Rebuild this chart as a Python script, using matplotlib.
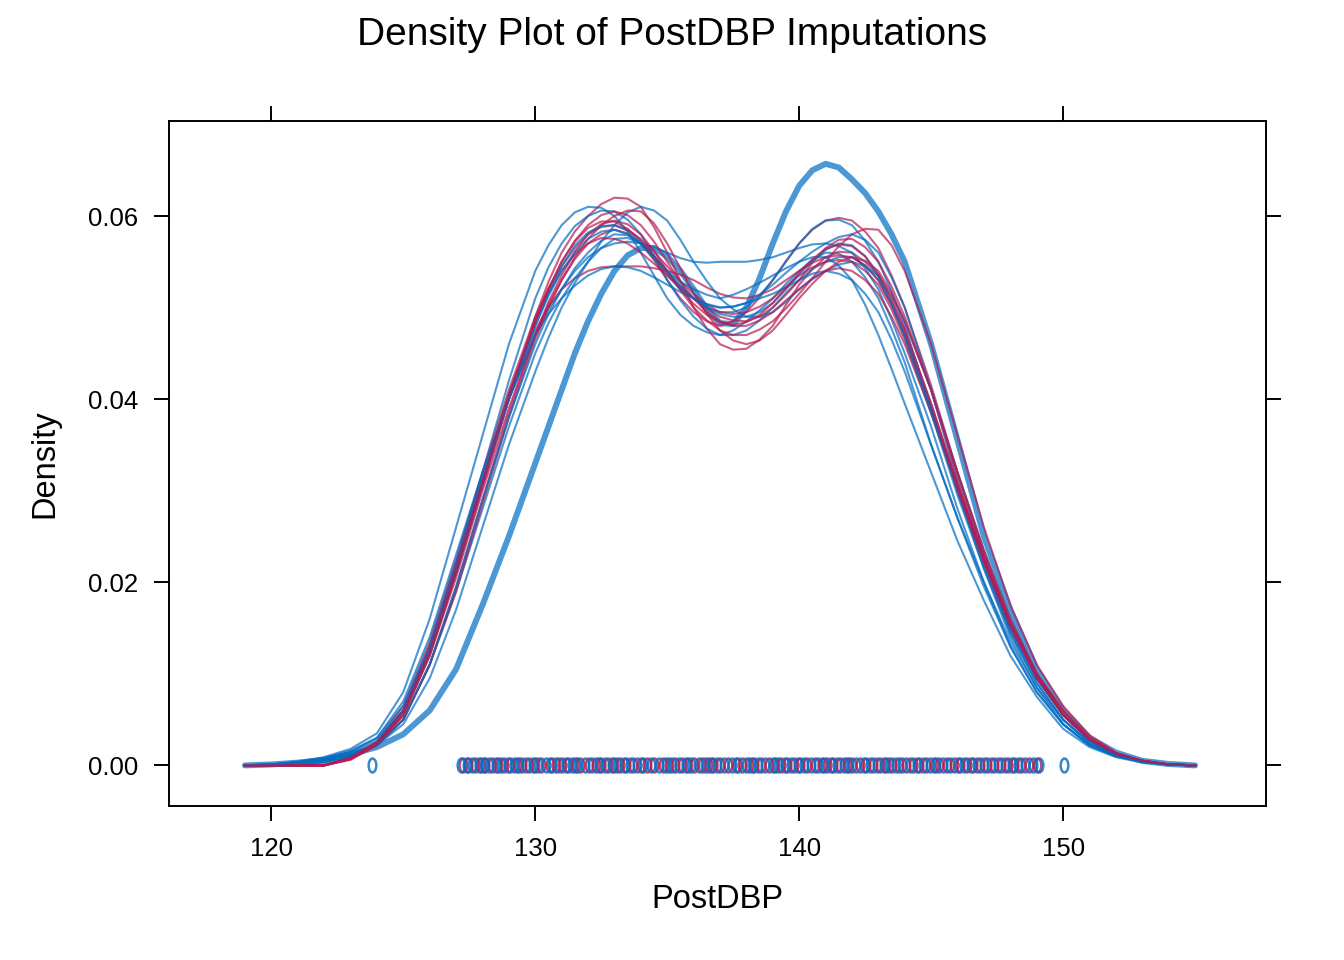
import numpy as np
import matplotlib
matplotlib.use("Agg")
from matplotlib import pyplot as plt
from matplotlib.path import Path
from matplotlib.transforms import Affine2D

plt.rcParams['font.family'] = ['Liberation Sans', 'DejaVu Sans']

# x grid (PostDBP) shared by all density curves: 1 unit on the tails, 0.5 around the peaks
grid = [119, 120, 121, 122, 123, 124, 125, 126, 127, 128, 129, 130,
        130.5, 131, 131.5, 132, 132.5, 133, 133.5, 134, 134.5, 135, 135.5, 136, 136.5,
        137, 137.5, 138, 138.5, 139, 139.5, 140, 140.5, 141, 141.5, 142, 142.5, 143, 143.5,
        144, 145, 146, 147, 148, 149, 150, 151, 152, 153, 154, 155]

# densities, in units of 0.001
observed = [0, 0.1, 0.3, 0.6, 1.2, 2.0, 3.4, 6, 10.5, 17.5, 25, 33,
            37, 41, 45, 48.5, 51.5, 54, 55.7, 56.5, 56.5, 55.6, 54, 52, 49.8,
            48.3, 48.2, 50, 53.2, 57, 60.5, 63.3, 65, 65.7, 65.3, 64, 62.5, 60.5, 58,
            55, 46, 35.5, 25, 17, 10.5, 6, 3, 1.4, 0.5, 0.15, 0]

blue_imps = [
    [0, 0.1, 0.4, 0.9, 1.8, 3.5, 8, 16, 26, 36, 46, 54,
     56.8, 59, 60.4, 61, 60.9, 60, 58.3, 56, 53.5, 51, 49.2, 48, 47.3,
     47, 47.5, 48.5, 49.7, 51, 52.6, 54, 55.2, 56, 55.9, 55, 53.3, 51, 47.7,
     44, 35, 27, 19.5, 13, 8, 4.5, 2.2, 1, 0.4, 0.1, 0],
    [0, 0.1, 0.3, 0.6, 1.2, 2.4, 5.5, 12, 21, 31, 40, 47,
     49.8, 52, 54, 55.5, 56.5, 57, 57.2, 57, 56.6, 56, 55.4, 55, 54.9,
     55, 55, 55, 55.2, 55.5, 56, 56.5, 56.9, 57, 56.7, 56, 54.3, 52, 48.7,
     45, 37, 28, 20, 13, 8, 4.5, 2.2, 1, 0.4, 0.1, 0],
    [0, 0, 0, 0.2, 1.0, 2.5, 6, 13, 22, 32, 42, 51,
     54.4, 57, 58.9, 60, 60.6, 60.5, 59.6, 58, 55.6, 53, 50.8, 49, 47.7,
     47, 47, 47.5, 48.6, 50, 51.6, 53, 54.2, 55, 55.5, 55.5, 54.6, 53, 50.3,
     47, 39, 30, 22, 14.5, 9, 5, 2.4, 1.1, 0.4, 0.1, 0],
    [0, 0.1, 0.3, 0.6, 1.2, 2.3, 5, 11, 19, 28, 37, 45,
     48.3, 51, 53.2, 55, 56.5, 57.5, 57.6, 57, 55.7, 54, 52.4, 51, 50,
     49.5, 49.5, 50, 51.3, 53, 55, 57, 58.6, 59.5, 59.6, 59, 57.3, 55, 51.8,
     48, 39, 30, 21.5, 14, 8.5, 4.5, 2.2, 1, 0.4, 0.1, 0],
    [0, 0, 0.1, 0.4, 1.1, 2.2, 4.5, 9.5, 17, 26, 35, 43,
     46.7, 50, 52.7, 55, 57.2, 59, 60.4, 61, 60.6, 59.5, 57.4, 55, 52.9,
     51, 49.8, 49, 49, 49.5, 50.6, 52, 53.1, 54, 54.7, 55, 54.5, 53.5, 51.3,
     48.5, 41, 32, 23.5, 16, 10, 5.5, 2.8, 1.2, 0.5, 0.1, 0],
    [0, 0.1, 0.3, 0.7, 1.5, 3, 7, 14, 23, 32, 40, 47,
     49.3, 51, 52.4, 53.5, 54.2, 54.5, 54.4, 54, 53.3, 52.5, 51.7, 51, 50.4,
     50, 50.1, 50.5, 51, 51.5, 52.2, 53, 53.7, 54, 53.7, 53, 51.5, 49.5, 46.5,
     43, 35, 27, 20, 13.5, 8.5, 5, 2.5, 1.1, 0.4, 0.1, 0],
    [0, 0, 0.1, 0.4, 1.0, 2.2, 5, 11, 19.5, 29, 38, 46,
     49.3, 52, 54.3, 56, 57.3, 58, 57.9, 57, 55.3, 53.5, 52, 51, 50.3,
     50, 50.1, 50.5, 51.4, 52.5, 53.8, 55, 56.1, 57, 57.7, 58, 57.4, 56, 53.3,
     50, 41, 31, 22.5, 15, 9.5, 5.5, 2.8, 1.2, 0.5, 0.1, 0],
    [0, 0.1, 0.4, 0.8, 1.6, 3, 6.5, 13, 22, 31.5, 40.5, 48,
     51.3, 54, 56, 57.5, 58.3, 58.5, 58, 57, 55.5, 54, 52.8, 52, 51.4,
     51, 51.4, 52, 52.7, 53.5, 54.3, 55, 55.5, 55.5, 54.6, 53, 50.3, 47, 43.3,
     39.5, 32, 24.5, 18, 12, 7.5, 4, 2, 0.9, 0.3, 0.1, 0],
    [0, 0.1, 0.3, 0.7, 1.4, 2.7, 6, 12.5, 21.5, 31, 40, 48,
     51.5, 54.5, 56.8, 58.2, 58.9, 59, 58.4, 57.2, 55.6, 53.9, 52.3, 51, 50,
     49.3, 49, 49, 49.5, 50.5, 52, 53.6, 55.1, 56.3, 57, 56.8, 55.6, 53.4, 50.4,
     46.8, 38.5, 29.5, 21.5, 14.5, 9, 5, 2.5, 1.1, 0.4, 0.1, 0],
]

red_imps = [
    [0, 0, 0, 0, 0.8, 2.5, 6, 12.5, 21, 30.5, 40, 49,
     52.8, 56, 58.3, 60, 61.3, 62, 61.9, 61, 58.8, 56, 52.9, 50, 47.7,
     46, 45.4, 45.5, 46.5, 48, 50.3, 52.5, 54.2, 55.5, 56.1, 56, 55, 53.5, 50.7,
     47.5, 39.5, 30.5, 22.5, 15, 9.5, 5.5, 2.8, 1.2, 0.5, 0.1, 0],
    [0, 0, 0, 0, 0.7, 2.3, 5.5, 12, 20.5, 30, 39, 47,
     50.3, 53, 55.3, 57, 58, 58.5, 58.1, 57, 55.2, 53, 51, 49.5, 48.5,
     48, 48.5, 49.5, 51.1, 53, 55.1, 57, 58.5, 59.5, 59.8, 59.5, 58.3, 56.5, 53.5,
     50, 41.5, 32, 23, 15.5, 9.5, 5.5, 2.8, 1.2, 0.5, 0.1, 0],
    [0, 0, 0, 0, 0.8, 2.4, 6, 13, 22, 31, 40, 47.5,
     50.1, 52, 53.2, 54, 54.4, 54.5, 54.5, 54.5, 54.3, 54, 53.6, 53, 52.2,
     51.5, 51.1, 51, 51.4, 52, 53, 54, 54.9, 55.5, 55.7, 55.5, 54.6, 53, 50.3,
     47, 39, 30.5, 22.5, 15.5, 10, 6, 3, 1.3, 0.5, 0.1, 0],
    [0, 0, 0, 0, 0.6, 2.2, 5, 11, 19.5, 29, 38.5, 47,
     50.6, 53.5, 56.1, 58, 59.1, 59.5, 59.1, 58, 56.2, 54, 51.9, 50, 48.6,
     47.5, 47, 47, 47.6, 48.5, 49.9, 51.5, 53.2, 55, 56.7, 58, 58.6, 58.5, 56.8,
     54, 46, 36, 26, 17.5, 11, 6.5, 3.3, 1.4, 0.5, 0.1, 0],
    [0, 0, 0, 0, 0.9, 2.6, 6.5, 13.5, 22.5, 32, 41, 49,
     52.1, 54.5, 56.5, 58, 58.8, 59, 58.5, 57.5, 56.1, 54.5, 52.9, 51.5, 50.3,
     49.5, 49.3, 49.5, 50.1, 51, 52.3, 53.5, 54.4, 55, 55.2, 55, 54, 52.5, 49.8,
     46.5, 38.5, 30, 22, 15, 9.5, 5.5, 2.8, 1.2, 0.5, 0.1, 0],
    [0, 0, 0, 0, 0.7, 2.2, 5, 11, 19, 28.5, 38, 46.5,
     50, 53, 55.5, 57.5, 59, 60, 60.6, 60.5, 59.2, 57, 54.3, 51.5, 49.3,
     47.5, 46.4, 46, 46.4, 47.5, 49.2, 51, 52.6, 54, 55, 55.5, 55.1, 54, 51.6,
     48.5, 41, 32, 23.5, 16, 10, 5.5, 2.8, 1.2, 0.5, 0.1, 0],
    [0, 0, 0, 0, 0.8, 2.5, 6, 12.5, 21.5, 31, 40.5, 48.5,
     51.6, 54, 55.8, 57, 57.6, 57.5, 57, 56, 54.8, 53.5, 52.2, 51, 49.9,
     49, 48.6, 48.5, 49, 50, 51.4, 53, 54.9, 56.5, 57.4, 57.5, 56.6, 55, 52.3,
     49, 41, 31.5, 23, 15.5, 10, 5.5, 2.8, 1.2, 0.5, 0.1, 0],
    [0, 0, 0, 0, 0.7, 2.3, 5.5, 12, 21, 30.5, 40, 48.5,
     52, 55, 57.3, 59, 60.1, 60.5, 60.1, 59, 57.2, 55, 52.8, 51, 49.5,
     48.5, 48, 48, 48.6, 49.5, 50.8, 52, 53.2, 54, 54.3, 54, 53, 51.5, 49,
     46, 38.5, 30.5, 22.5, 15.5, 10, 6, 3, 1.3, 0.5, 0.1, 0],
    [0, 0, 0, 0, 0.7, 2.4, 5.8, 12.5, 21.5, 31, 40.5, 48.5,
     52, 55, 57.2, 58.7, 59.4, 59.4, 58.6, 57.3, 55.6, 53.8, 52, 50.4, 49.2,
     48.4, 48.1, 48.4, 49.2, 50.5, 52.1, 53.8, 55.3, 56.4, 56.9, 56.7, 55.6, 53.7, 51,
     47.6, 39.5, 30.8, 22.5, 15.3, 9.6, 5.6, 2.9, 1.3, 0.5, 0.1, 0],
]

# imputed values shown as points along the baseline
rug_red = [127.25, 127.45, 127.7, 127.95, 128.1, 128.35, 128.6, 128.8, 129.05, 129.3,
           129.5, 129.75, 130.0, 130.2, 130.55, 130.8, 131.0, 131.25, 131.5, 131.7,
           132.05, 132.3, 132.5, 132.75, 133.0, 133.2, 133.45, 133.7, 134.0, 134.25,
           134.5, 134.85, 135.05, 135.3, 135.55, 135.8, 136.0, 136.3, 136.55, 136.75,
           137.0, 137.3, 137.6, 137.85, 138.1, 138.3, 138.55, 138.85, 139.1, 139.3,
           139.55, 139.8, 140.05, 140.3, 140.6, 140.85, 141.05, 141.3, 141.55, 141.8,
           142.0, 142.3, 142.55, 142.8, 143.05, 143.3, 143.5, 143.8, 144.05, 144.3,
           144.55, 144.8, 145.1, 145.3, 145.6, 145.85, 146.1, 146.35, 146.6, 146.85,
           147.1, 147.4, 147.65, 147.9, 148.15, 148.4, 148.7, 149.0]
rug_blue = [123.8, 127.2, 127.4, 127.6, 127.85, 128.05, 128.25, 128.5, 128.7, 128.95,
            129.2, 129.4, 129.65, 129.9, 130.1, 130.4, 130.65, 130.9, 131.15, 131.4,
            131.6, 131.9, 132.15, 132.4, 132.65, 132.9, 133.1, 133.35, 133.6, 133.85,
            134.1, 134.4, 134.7, 134.95, 135.2, 135.45, 135.7, 135.9, 136.2, 136.45,
            136.65, 136.9, 137.15, 137.45, 137.7, 138.0, 138.2, 138.45, 138.7, 139.0,
            139.2, 139.45, 139.7, 139.95, 140.2, 140.45, 140.7, 140.95, 141.2, 141.45,
            141.7, 141.9, 142.15, 142.45, 142.7, 142.95, 143.2, 143.4, 143.65, 143.9,
            144.2, 144.45, 144.7, 144.95, 145.2, 145.45, 145.7, 146.0, 146.25, 146.5,
            146.75, 147.0, 147.25, 147.55, 147.8, 148.05, 148.3, 148.55, 148.85, 149.1,
            150.05]

blue = '#006CC2'
red = '#B61A51'

# rug glyph: an open circle squeezed sideways, like the 'o' marks in the picture
oval = Path.unit_circle().transformed(Affine2D().scale(0.55, 1.0))

fig = plt.figure(figsize=(13.44, 9.6), dpi=100)
ax = fig.add_axes([0.1255, 0.16, 0.8165, 0.714])

x = np.array(grid)
ax.plot(x, np.array(observed) / 1000, color=blue, alpha=0.7, lw=4.3,
        solid_joinstyle='round', solid_capstyle='round')
for b, r in zip(blue_imps, red_imps):
    ax.plot(x, np.array(b) / 1000, color=blue, alpha=0.7, lw=1.5, solid_joinstyle='round')
    ax.plot(x, np.array(r) / 1000, color=red, alpha=0.7, lw=1.5, solid_joinstyle='round')

ax.plot(rug_red, np.zeros(len(rug_red)), ls='none', marker=oval, ms=10, mfc='none',
        mec=red, mew=1.8, alpha=0.8)
ax.plot(rug_blue, np.zeros(len(rug_blue)), ls='none', marker=oval, ms=10, mfc='none',
        mec=blue, mew=1.8, alpha=0.8)

ax.set_xlim(116.11, 157.69)
ax.set_ylim(-0.00448, 0.07038)
ax.set_xticks([120, 130, 140, 150])
ax.set_yticks([0, 0.02, 0.04, 0.06])
ax.set_yticklabels(['0.00', '0.02', '0.04', '0.06'])
ax.tick_params(direction='out', length=10.8, width=1.4, pad=11, labelsize=18.5,
               top=True, right=True)
for s in ax.spines.values():
    s.set_linewidth(1.4)

fig.text(0.5335, 0.0625, 'PostDBP', fontsize=23.5, ha='center', va='center')
fig.text(0.0335, 0.517, 'Density', fontsize=23.5, ha='center', va='center', rotation=90)
fig.text(0.5, 0.953, 'Density Plot of PostDBP Imputations', fontsize=28,
         ha='center', va='baseline')

fig.savefig('out.png', dpi=100)
